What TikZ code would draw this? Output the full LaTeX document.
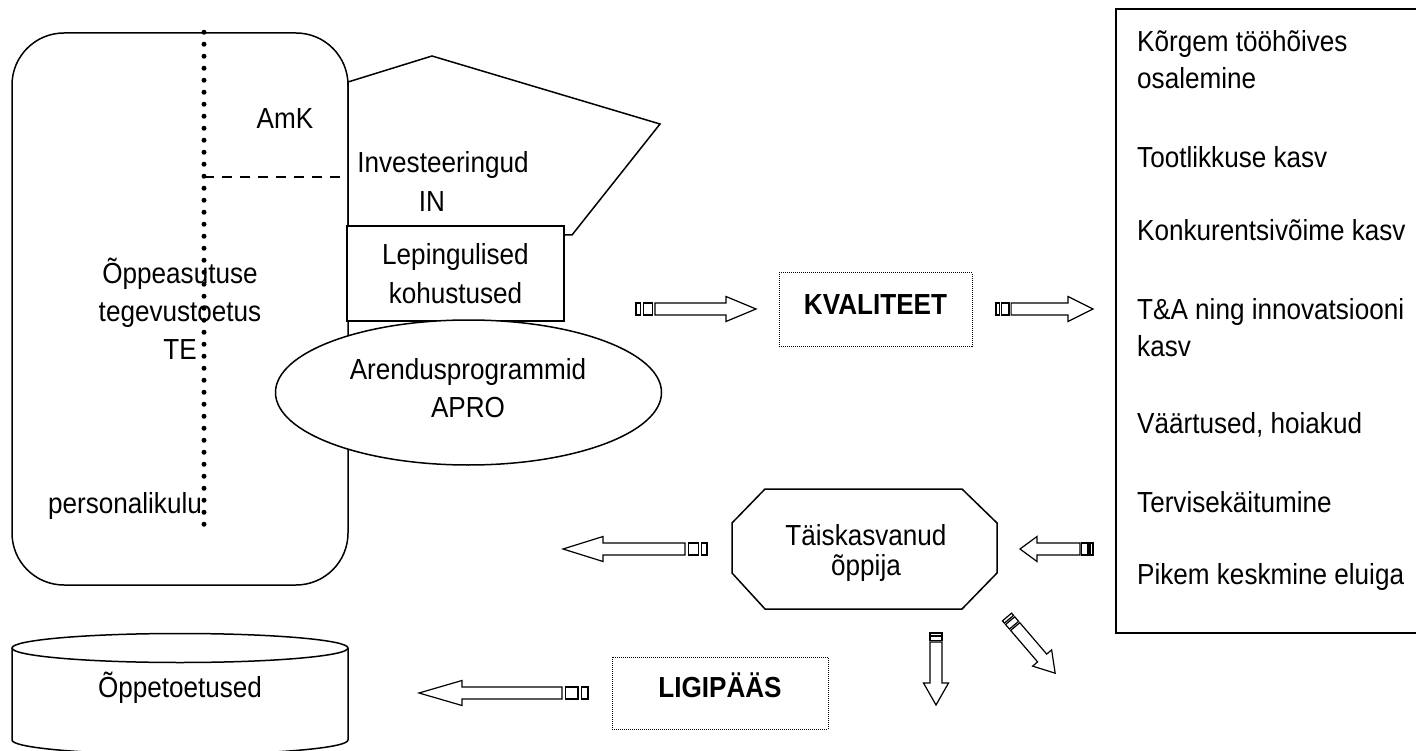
\documentclass[tikz,border=0pt]{standalone}
\usepackage{fontspec}
\setmainfont{Liberation Sans}[FakeStretch=0.9]
\usetikzlibrary{shapes.geometric,positioning}

\begin{document}
\begin{tikzpicture}[
  x=1pt, y=-1pt,
  every node/.style={font=\fontsize{29}{37}\selectfont, inner sep=0pt},
  box/.style={draw, line width=1.5pt, fill=white, align=center},
  dotbox/.style={draw, densely dotted, line width=1pt, fill=white,
    text height=21pt, text depth=12pt, font=\fontsize{29}{37}\selectfont\bfseries},
  item/.style={anchor=west, align=left},
  pics/fatarrow/.style n args={3}{code={
    \draw[line width=1.2pt, fill=white] (0,-6) rectangle (5*#3,6);
    \draw[line width=1.2pt, fill=white] (8*#3,-6) rectangle (18*#3,6);
    \draw[line width=1.2pt, fill=white] (21*#3,-6) -- (#1-#2,-6) -- (#1-#2,-12.5)
      -- (#1,0) -- (#1-#2,12.5) -- (#1-#2,6) -- (21*#3,6) -- cycle;
  }}
]
  \useasboundingbox (0,0) rectangle (1416,751);
  \clip (0,0) rectangle (1416,751);
  \fill[white] (0,0) rectangle (1416,751);

  % funding of the school
  \node[box, rounded corners=52pt, minimum width=336pt, minimum height=552pt,
    font=\fontsize{29}{38}\selectfont] (te) at (180,309) {Õppeasutuse\\tegevustoetus\\TE};
  \draw[line width=5pt, line cap=round, dash pattern=on 0pt off 12pt]
    ([xshift=24pt]te.north) -- ++(0,497);
  \coordinate (split) at (204,177);
  \draw[line width=2pt, dash pattern=on 10pt off 8pt] (split) -- (split -| te.east);
  \node (amk) at (285,119) {AmK};
  \node (staff) at (125,506) {personalikulu};

  % investments, contracts, programmes
  \draw[line width=1.5pt, fill=white] (348,82) -- (432,56) -- (660,124) -- (572,235)
    -- (348,235) -- cycle;
  \node (inv) at (443,165) {Investeeringud};
  \node (invabbr) at (432,202) {IN};
  \node[box, minimum width=217pt, minimum height=95pt, font=\fontsize{29}{39}\selectfont]
    (lep) at (455.5,273.5) {Lepingulised\\kohustused};
  \node[box, ellipse, minimum width=386pt, minimum height=145pt] (apro) at (468.5,392.5) {};
  \node[align=center, font=\fontsize{29}{38}\selectfont] (aprotext) at (468,388.5)
    {Arendusprogrammid\\APRO};

  % study grants
  \draw[line width=1.5pt, fill=white] (12,648) -- (12,740)
    arc[start angle=180, end angle=360, x radius=168pt, y radius=14.5pt] -- (348,648);
  \draw[line width=1.5pt, fill=white] (180,648) ellipse[x radius=168pt, y radius=14.5pt];
  \node (grants) at (180,688) {Õppetoetused};

  % quality and access
  \node[dotbox, minimum width=193pt, minimum height=73pt] (kval) at (875.5,309.5) {KVALITEET};
  \node[dotbox, minimum width=216pt, minimum height=72pt] (ligi) at (720,693) {LIGIPÄÄS};

  % adult learner
  \draw[line width=1.5pt, fill=white] (765,489) -- (962,489) -- (997,523) -- (997,573)
    -- (962,609) -- (765,609) -- (732,573) -- (732,523) -- cycle;
  \node[align=center, font=\fontsize{29}{30}\selectfont] (learner) at (866,553)
    {Täiskasvanud\\õppija};

  % effects
  \node[draw, line width=1.5pt, fill=white, minimum width=314pt, minimum height=624pt]
    (effects) at (1273,321) {};
  \node[item] (e1) at (1137,60) {Kõrgem tööhõives\\osalemine};
  \node[item] (e2) at (1137,157) {Tootlikkuse kasv};
  \node[item] (e3) at (1137,230) {Konkurentsivõime kasv};
  \node[item] (e4) at (1137,328) {T\&A ning innovatsiooni\\kasv};
  \node[item] (e5) at (1137,425) {Väärtused, hoiakud};
  \node[item] (e6) at (1137,502) {Tervisekäitumine};
  \node[item] (e7) at (1137,577) {Pikem keskmine eluiga};

  % block arrows
  \coordinate (a1) at (636,309);
  \coordinate (a2) at (996,309);
  \coordinate (a3) at (707,549);
  \coordinate (a4) at (1093,549);
  \coordinate (a5) at (588,693);
  \coordinate (a6) at (936,633);
  \coordinate (a7) at (1007,617);
  \pic at (a1) {fatarrow={120}{30}{0.9}};
  \pic at (a2) {fatarrow={97}{25}{0.72}};
  \pic[rotate=180] at (a3) {fatarrow={144}{40}{1.05}};
  \pic[rotate=180] at (a4) {fatarrow={73}{17}{0.62}};
  \pic[rotate=180] at (a5) {fatarrow={169}{43}{1.24}};
  \pic[rotate=-90] at (a6) {fatarrow={72}{22}{0.43}};
  \pic[rotate=-49.4] at (a7) {fatarrow={74}{20}{0.6}};
\end{tikzpicture}
\end{document}
